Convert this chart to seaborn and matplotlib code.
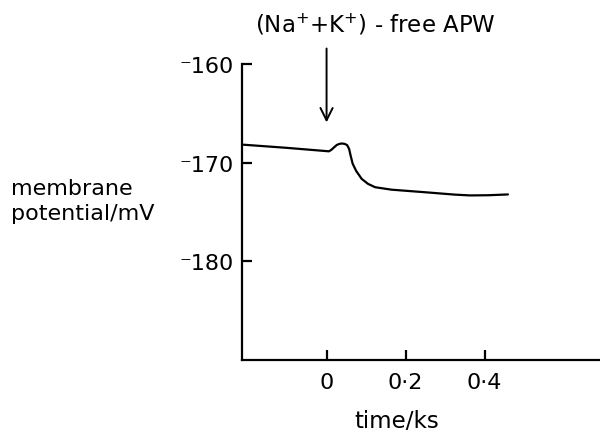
import matplotlib
matplotlib.use("Agg")
import matplotlib.pyplot as plt
import seaborn as sns
import pandas as pd

# data
time_ks = [-0.21, -0.10, 0.006, 0.012, 0.019, 0.026, 0.034, 0.040, 0.046,
           0.052, 0.057, 0.061, 0.066, 0.075, 0.089, 0.105, 0.123, 0.165,
           0.25, 0.325, 0.363, 0.41, 0.459]
potential_mV = [-168.18, -168.5, -168.85, -168.7, -168.45, -168.2, -168.08,
                -168.06, -168.1, -168.22, -168.6, -169.3, -170.1, -170.84,
                -171.65, -172.15, -172.49, -172.74, -173.0, -173.24, -173.32,
                -173.3, -173.22]
x_ticks = [0, 0.2, 0.4]
x_tick_labels = ["0", "0·2", "0·4"]
y_ticks = [-160, -170, -180]
y_tick_labels = ["⁻160", "⁻170", "⁻180"]
arrow_x = 0.0
arrow_from = -158.15
arrow_to = -166.2
title_text = "(Na$^{+}$+K$^{+}$) - free APW"
ylabel_text = "membrane\npotential/mV"
xlabel_text = "time/ks"

sns.set_theme(style="ticks")
plt.rcParams["font.family"] = ["DejaVu Sans"]

fig = plt.figure(figsize=(6, 4.35), dpi=100)
ax = fig.add_axes([242 / 600, (435 - 361) / 435, (600 - 242) / 600, (361 - 65) / 435])

df = pd.DataFrame({"time": time_ks, "potential": potential_mV})
sns.lineplot(data=df, x="time", y="potential", ax=ax, color="black",
             linewidth=1.6, sort=False, estimator=None)

ax.set_xlim(-0.214, 0.692)
ax.set_ylim(-190, -160)
ax.set_xticks(x_ticks)
ax.set_xticklabels(x_tick_labels)
ax.set_yticks(y_ticks)
ax.set_yticklabels(y_tick_labels)
ax.set_xlabel("")
ax.set_ylabel("")
for s in ["top", "right"]:
    ax.spines[s].set_visible(False)
for s in ["left", "bottom"]:
    ax.spines[s].set_linewidth(1.6)
    ax.spines[s].set_color("black")
ax.tick_params(axis="both", direction="in", length=7, width=1.6, colors="black",
               labelsize=16)
ax.tick_params(axis="x", pad=9)
ax.tick_params(axis="y", pad=6)

ax.annotate("", xy=(arrow_x, arrow_to), xytext=(arrow_x, arrow_from),
            arrowprops=dict(arrowstyle="->", color="black", lw=1.4,
                            mutation_scale=22),
            annotation_clip=False)

fig.text(375 / 600, 1 - 25 / 435, title_text, ha="center", va="center",
         fontsize=16.5, color="black")
fig.text(11 / 600, 1 - 201.7 / 435, ylabel_text, ha="left", va="center",
         fontsize=16, color="black", linespacing=1.3)
fig.text(396.7 / 600, 1 - 421.7 / 435, xlabel_text, ha="center", va="center",
         fontsize=16.5, color="black")

fig.savefig("out.png", dpi=100)
